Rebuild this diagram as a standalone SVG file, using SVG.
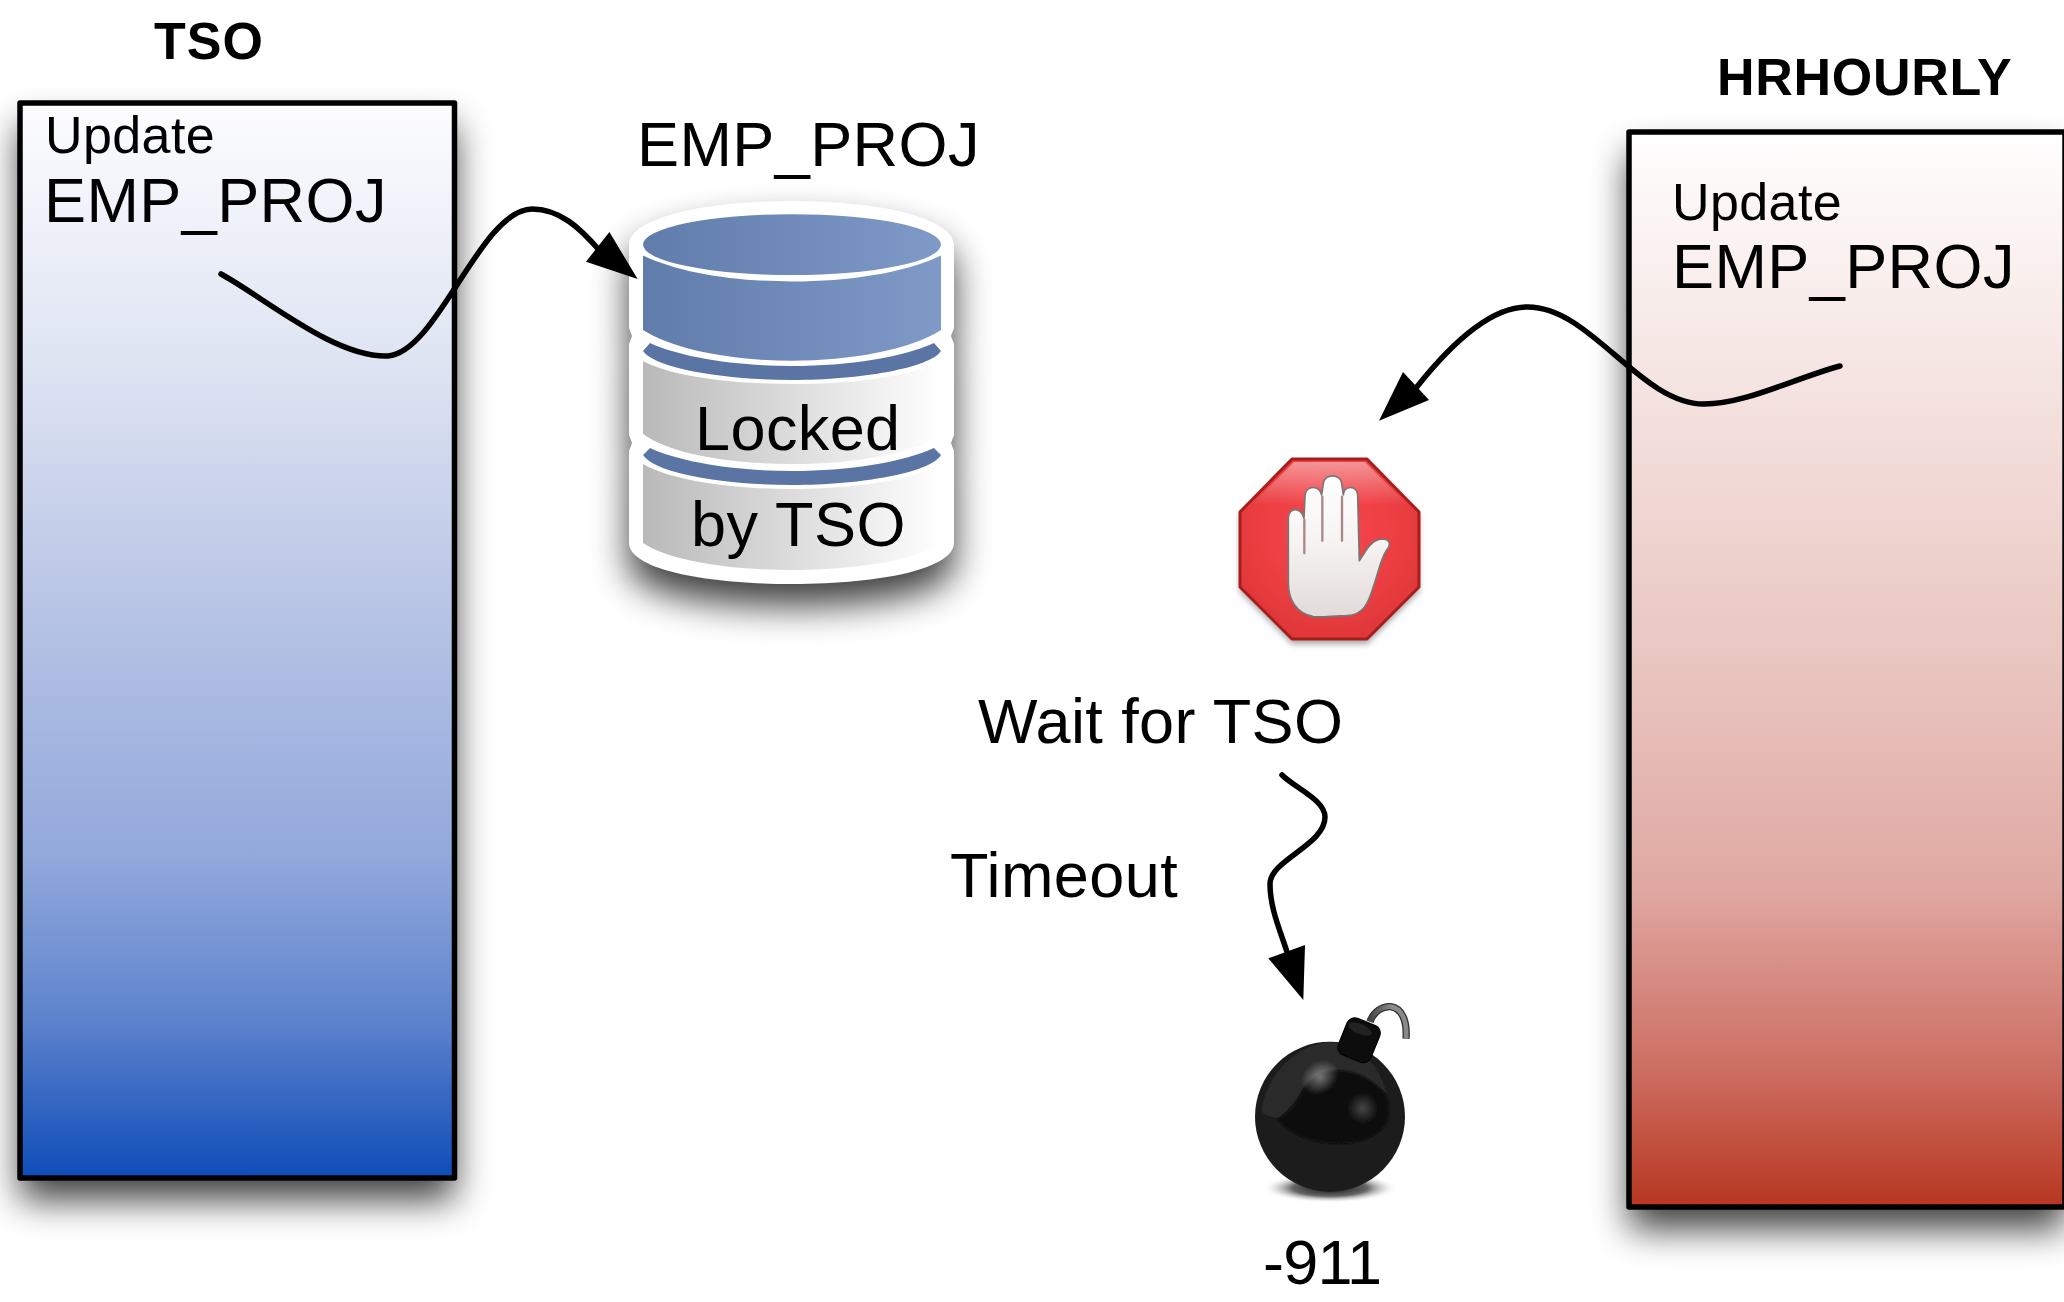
<svg xmlns="http://www.w3.org/2000/svg" width="2064" height="1302" viewBox="0 0 2064 1302">
<style>
text{font-family:"Liberation Sans",Arial,sans-serif;fill:#000}
.b{font-weight:bold;font-size:52px}
.m{font-size:52px;letter-spacing:.4px}
.l{font-size:63px;letter-spacing:.4px}
.box{stroke:#000;stroke-width:5.5;stroke-linejoin:round}
.wire{fill:none;stroke:#000;stroke-width:5.5;stroke-linecap:round}
</style>
<defs>
<filter id="sh" filterUnits="userSpaceOnUse" x="-100" y="-100" width="2300" height="1500"><feGaussianBlur stdDeviation="18"/></filter>
<filter id="soft1" x="-10%" y="-10%" width="120%" height="120%"><feGaussianBlur stdDeviation=".6"/></filter>
<filter id="soft2" x="-50%" y="-50%" width="200%" height="200%"><feGaussianBlur stdDeviation="3"/></filter>
<linearGradient id="gb" x1="0" y1="0" x2="0" y2="1">
<stop offset="0" stop-color="#fdfdff"/><stop offset=".25" stop-color="#dde3f2"/><stop offset=".5" stop-color="#b2c0e3"/><stop offset=".7" stop-color="#93a9dc"/><stop offset=".85" stop-color="#5e84cd"/><stop offset="1" stop-color="#0e4db8"/>
</linearGradient>
<linearGradient id="gr" x1="0" y1="0" x2="0" y2="1">
<stop offset="0" stop-color="#fffefe"/><stop offset=".25" stop-color="#f4e2df"/><stop offset=".5" stop-color="#e9c5c0"/><stop offset=".7" stop-color="#e0a9a3"/><stop offset=".87" stop-color="#cd6f63"/><stop offset="1" stop-color="#b73620"/>
</linearGradient>
<linearGradient id="cb" x1="0" y1="0" x2="1" y2="0"><stop offset="0" stop-color="#607cab"/><stop offset="1" stop-color="#809ac8"/></linearGradient>
<linearGradient id="cg" x1="0" y1="0" x2="1" y2="0"><stop offset="0" stop-color="#b9b9b9"/><stop offset="1" stop-color="#ffffff"/></linearGradient>
<radialGradient id="stop" cx=".5" cy=".4" r=".7"><stop offset="0" stop-color="#f9484e"/><stop offset=".55" stop-color="#ec3e42"/><stop offset="1" stop-color="#d93535"/></radialGradient>
<linearGradient id="stopHi" x1="0" y1="0" x2="0" y2="1"><stop offset="0" stop-color="#fff" stop-opacity=".45"/><stop offset=".35" stop-color="#fff" stop-opacity="0"/></linearGradient>
<linearGradient id="hand" x1="0" y1="0" x2="0" y2="1"><stop offset="0" stop-color="#fff"/><stop offset=".5" stop-color="#f6f2f2"/><stop offset="1" stop-color="#e2dada"/></linearGradient>
<radialGradient id="bs"><stop offset="0" stop-color="#111"/><stop offset=".55" stop-color="#666"/><stop offset="1" stop-color="#fff" stop-opacity="0"/></radialGradient>
<radialGradient id="hl"><stop offset="0" stop-color="#fff" stop-opacity=".42"/><stop offset="1" stop-color="#fff" stop-opacity="0"/></radialGradient>
<linearGradient id="fuse" x1="0" y1="0" x2="1" y2="0"><stop offset="0" stop-color="#444"/><stop offset=".6" stop-color="#8c8c8c"/><stop offset="1" stop-color="#888"/></linearGradient>
<path id="cyl" d="M629 245C629 219 700 201 792 201C884 201 954 219 954 245L954 328L951 336L954 344L954 435L951 443L954 451L954 543C954 568 884 584 792 584C700 584 629 568 629 543L629 451L632 443L629 435L629 344L632 336L629 328Z"/>
</defs>

<g id="tso">
<rect x="20" y="125" width="434.5" height="1075" fill="#000" opacity=".75" filter="url(#sh)"/>
<rect class="box" x="20" y="103" width="434.5" height="1075" fill="url(#gb)"/>
<text class="b" x="154" y="59" letter-spacing="1">TSO</text>
<text class="m" x="45" y="153">Update</text>
<text class="l" x="44" y="222">EMP_PROJ</text>
</g>

<g id="hrhourly">
<rect x="1629" y="154" width="436" height="1075" fill="#000" opacity=".75" filter="url(#sh)"/>
<rect class="box" x="1629" y="132" width="436" height="1075" fill="url(#gr)"/>
<text class="b" x="1717" y="95" letter-spacing=".7">HRHOURLY</text>
<text class="m" x="1672" y="220">Update</text>
<text class="l" x="1672" y="288">EMP_PROJ</text>
</g>

<g id="emp_proj">
<use href="#cyl" y="22" fill="#000" opacity=".75" filter="url(#sh)"/>
<use href="#cyl" fill="#fff"/>
<ellipse cx="792" cy="244.6" rx="149" ry="30.4" fill="url(#cb)"/>
<path fill="url(#cb)" d="M643 255.4C680 273 735 281.4 792 281.4C849 281.4 904 273 941 255.4L941 330C910 350 850 360.7 792 360.7C734 360.7 674 350 643 330Z"/>
<path fill="#5a74a3" d="M650 343C680 357 735 366 792 366C849 366 904 357 934 343L941 351C930 368 860 380 792 380C724 380 654 368 643 351Z"/>
<path fill="url(#cg)" d="M643 361C670 376 730 384 792 384C854 384 914 376 941 361L941 434C914 454 854 464 792 464C730 464 670 454 643 434Z"/>
<path fill="#5a74a3" d="M650 448C680 462 735 471 792 471C849 471 904 462 934 448L941 455C930 473 860 485 792 485C724 485 654 473 643 455Z"/>
<path fill="url(#cg)" d="M643 464C670 480 730 489 792 489C854 489 914 480 941 464L941 543C914 561 854 570 792 570C730 570 670 561 643 543Z"/>
<text class="l" x="637" y="166">EMP_PROJ</text>
<text class="l" x="695" y="450">Locked</text>
<text class="l" x="691" y="546">by TSO</text>
</g>

<g id="stop-sign">
<polygon points="1292,463 1367,463 1419,516 1419,592 1367,644 1292,644 1240,592 1240,516" fill="#000" opacity=".35" filter="url(#soft2)"/>
<g filter="url(#soft1)">
<polygon points="1292,459 1367,459 1419,512 1419,587 1367,639 1292,639 1240,587 1240,512" fill="url(#stop)" stroke="#a91f1f" stroke-width="3" stroke-linejoin="round"/>
<polygon points="1294,462 1365,462 1416,513 1416,586 1243,586 1243,513" fill="url(#stopHi)"/>
<g transform="translate(1200 440) scale(.33333)">
<path fill="url(#hand)" stroke="#777" stroke-width="5" stroke-linejoin="round" d="M340 530C290 520 265 480 265 430L265 235C265 200 305 200 312 235L315 165C320 135 358 135 365 165L370 130C375 100 420 100 425 130L430 165C432 135 470 135 473 165L478 362C495 340 510 297 550 297C575 300 570 320 560 330C540 360 535 400 520 440C505 490 490 525 440 527C400 527 370 533 340 530Z"/>
<path fill="none" stroke="#a88" stroke-width="7" stroke-linecap="round" d="M313 240L313 340M367 170L367 302M426 170L426 302"/>
</g>
</g>
</g>

<g id="bomb">
<ellipse cx="1330" cy="1188" rx="68" ry="15" fill="url(#bs)"/>
<g transform="translate(1220 980) scale(.33333)" filter="url(#soft1)">
<path fill="none" stroke="#333" stroke-width="22" d="M450 125C462 92 490 78 512 80C545 85 562 120 558 176"/>
<path fill="none" stroke="url(#fuse)" stroke-width="14" d="M450 125C462 92 490 78 512 80C545 85 562 120 558 176"/>
<circle cx="330" cy="410" r="225" fill="#1c1c1c"/>
<path fill="#2c2c2c" d="M125 395C135 290 230 190 330 187C420 187 480 260 500 340C450 290 320 240 240 340C220 370 190 410 170 415C150 410 135 405 125 395Z"/>
<path fill="#0a0a0a" filter="url(#soft2)" d="M172 418C200 400 235 375 248 330C300 250 420 250 498 345C520 400 500 440 470 460C420 505 250 510 172 418Z"/>
<ellipse cx="300" cy="292" rx="60" ry="48" fill="url(#hl)" transform="rotate(-35 300 292)"/>
<ellipse cx="428" cy="385" rx="48" ry="48" fill="url(#hl)" opacity=".55"/>
<rect x="365" y="122" width="105" height="118" rx="24" fill="#0c0c0c" stroke="#050505" stroke-width="4" transform="rotate(22 418 180)"/>
<ellipse cx="420" cy="147" rx="38" ry="15" fill="#222" transform="rotate(22 420 147)"/>
</g>
</g>

<g id="connectors">
<path class="wire" d="M221 274C265 298 335 358 388 356C438 352 480 210 532 209C560 209 580 228 600 251"/>
<polygon points="637.6,279 586,261.7 609.4,232"/>
<path class="wire" d="M1840 366C1790 380 1745 404 1704 404C1640 404 1590 306 1527 307C1490 307 1450 345 1416 388"/>
<polygon points="1379,420.7 1403,372 1429,400"/>
<path class="wire" d="M1282 775C1295 788 1325 800 1325 817C1325 845 1270 860 1270 884C1270 908 1280 930 1287 952"/>
<polygon points="1303.3,1000 1268.3,958.3 1305,945"/>
</g>

<g id="labels">
<text class="l" x="978" y="743">Wait for TSO</text>
<text class="l" x="950" y="897">Timeout</text>
<text class="l" x="1263" y="1284" style="letter-spacing:-.8px">-911</text>
</g>
</svg>
